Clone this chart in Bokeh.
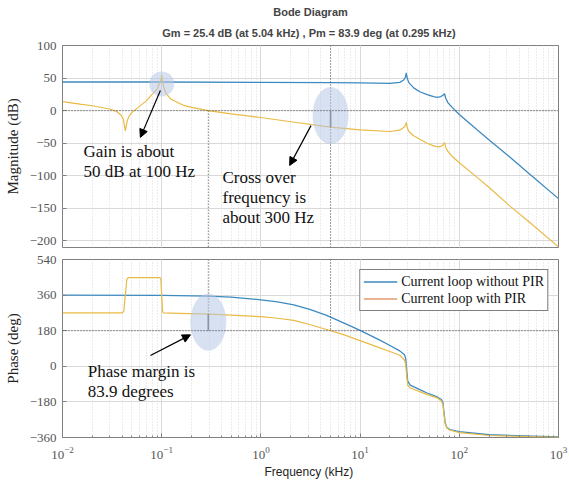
from bokeh.plotting import figure
from bokeh.layouts import column
from bokeh.models import (Title, Span, Arrow, NormalHead, Label, Legend, LegendItem,
                          FixedTicker, Range1d)
from bokeh.embed import file_html
from bokeh.resources import INLINE

# ---------------- data ----------------
# frequency in kHz
f_mag_wo = [0.01, 0.1, 1, 5, 10, 20, 25.1, 27.5, 28.7, 29.2, 29.8, 31, 34.7, 40, 47.4,
            55, 60, 65, 69, 71, 73, 77, 84.7, 100, 150, 200, 316, 500, 1000]
mag_wo = [44, 44, 43.5, 43, 42.5, 42, 43.5, 47, 52, 58, 50, 43, 35, 29, 24.6,
          21.5, 20.5, 21.5, 24, 26, 19, 12, 5, -6, -29, -45, -70, -96, -135]

f_mag_w = [0.01, 0.015, 0.02, 0.03, 0.035, 0.039, 0.041, 0.043, 0.045, 0.047, 0.05, 0.06,
           0.07, 0.08, 0.09, 0.095, 0.098, 0.1, 0.102, 0.105, 0.11, 0.123, 0.167, 0.2,
           0.295, 0.5, 1, 2, 5.04, 10, 20, 25.1, 27.5, 28.7, 29.2, 29.8, 31, 34.7, 40,
           47.4, 55, 62, 67, 69, 71, 73, 77, 84.7, 100, 150, 200, 316, 500, 1000]
mag_w = [14, 10, 7.5, 2.5, -1, -7, -13, -31, -15, -8, -3, 7,
         15, 25, 33, 42, 47, 55, 44, 36, 27, 18, 8, 5,
         0, -5, -10.5, -17, -25.4, -29.5, -32, -30, -26, -22, -18, -26, -32, -38.5, -44,
         -50, -54, -55.5, -54, -52, -49, -56, -63, -70, -80, -102, -118, -145, -170, -209]

f_ph_wo = [0.01, 0.1, 0.295, 0.5, 1, 1.47, 2.15, 3.16, 4.6, 6.8, 10, 15.8, 20, 25.1, 28,
           28.8, 29.5, 30.2, 32, 40, 47.4, 60, 66, 68.5, 70, 72, 75, 80, 100, 200, 1000]
ph_wo = [360, 359, 355, 350, 336, 326, 311, 287, 257, 220, 182, 132, 105, 78, 58,
         40, -20, -75, -95, -118, -135, -155, -168, -185, -230, -285, -310, -320, -330,
         -346, -357]

f_ph_w = [0.01, 0.04, 0.0415, 0.043, 0.0445, 0.046, 0.096, 0.098, 0.1, 0.102, 0.104, 0.15,
          0.295, 0.5, 1, 1.47, 2.15, 3.16, 4.6, 6.8, 10, 15.8, 20, 25.1, 28, 28.8, 29.5,
          30.2, 32, 40, 47.4, 60, 66, 68.5, 70, 72, 75, 80, 100, 200, 1000]
ph_w = [270, 270, 278, 360, 440, 448, 448, 440, 360, 278, 270, 268,
        264, 259, 251, 243, 232, 210, 186, 160, 130, 93, 75, 56, 32, 10, -50,
        -95, -110, -128, -143, -160, -175, -195, -240, -290, -312, -322, -335, -350, -359]

mag_ticks = [-200, -150, -100, -50, 0, 50, 100]
ph_ticks = [-360, -180, 0, 180, 360, 540]

gm_db, gm_freq = 25.4, 5.04
pm_deg, pm_freq = 83.9, 0.295

title_main = "Bode Diagram"
title_sub = "Gm = 25.4 dB (at 5.04 kHz) ,  Pm = 83.9 deg (at 0.295 kHz)"
series_names = ["Current loop without PIR", "Current loop with PIR"]

# ---------------- styling ----------------
BLUE = "#3d8ac0"
YELLOW = "#e9bb45"
ORANGE = "#e39a6e"
SERIF = "Liberation Serif"
SANS = "Liberation Sans"
FRAME = "#808080"
W = 569
MAG_RANGE = (-210, 100)
PH_RANGE = (-360, 540)


def style(p, yticks, ylabel):
    p.outline_line_color = FRAME
    p.outline_line_width = 1
    p.xgrid.grid_line_color = "#d9d9d9"
    p.xgrid.minor_grid_line_color = "#d9d9d9"
    p.xgrid.minor_grid_line_dash = "1 2"
    p.ygrid.grid_line_color = "#d9d9d9"
    p.yaxis.ticker = FixedTicker(ticks=yticks, minor_ticks=[])
    p.ygrid.ticker = FixedTicker(ticks=yticks, minor_ticks=[])
    for ax in (p.xaxis[0], p.yaxis[0]):
        ax.axis_line_color = None
        ax.major_tick_in = 4
        ax.major_tick_out = 0
        ax.minor_tick_in = 2
        ax.minor_tick_out = 0
        ax.major_tick_line_color = FRAME
        ax.minor_tick_line_color = FRAME
        ax.major_label_text_font = SERIF
        ax.major_label_text_font_size = "13px"
        ax.major_label_text_color = "#555555"
    p.yaxis.axis_label = ylabel
    p.yaxis.axis_label_text_font = SERIF
    p.yaxis.axis_label_text_font_size = "15px"
    p.yaxis.axis_label_text_font_style = "normal"
    p.yaxis.axis_label_text_color = "#222222"
    p.yaxis.major_label_standoff = 6
    p.yaxis.axis_label_standoff = 6
    p.min_border_left = 62
    p.min_border_right = 11


# ---------------- magnitude plot ----------------
p1 = figure(width=W, height=250, x_axis_type="log", output_backend="svg",
            toolbar_location=None, x_range=Range1d(0.01, 1000),
            y_range=Range1d(*MAG_RANGE))
p1.min_border_top = 45
p1.min_border_bottom = 3
style(p1, mag_ticks, "Magnitude (dB)")
p1.xaxis.visible = False

p1.title.text = title_main
p1.title.text_font = SANS
p1.title.text_font_size = "11px"
p1.title.text_font_style = "bold"
p1.title.align = "center"
p1.title.standoff = 0
p1.add_layout(Title(text=title_sub, text_font=SANS, text_font_size="11px",
                    text_font_style="bold", align="center", standoff=14), "above")

p1.line(f_mag_wo, mag_wo, line_color=BLUE, line_width=1.3)
p1.line(f_mag_w, mag_w, line_color=YELLOW, line_width=1.2)

p1.add_layout(Span(location=0, dimension="width", line_color="#444444",
                   line_dash="1 2", line_width=1))
p1.segment(x0=[pm_freq], y0=[0], x1=[pm_freq], y1=[MAG_RANGE[0]],
           line_color="#444444", line_dash="1 2", line_width=1)
p1.segment(x0=[gm_freq], y0=[MAG_RANGE[1]], x1=[gm_freq], y1=[MAG_RANGE[0]],
           line_color="#444444", line_dash="1 2", line_width=1)
p1.segment(x0=[gm_freq], y0=[0], x1=[gm_freq], y1=[-gm_db],
           line_color="#555555", line_width=1.6)

p1.ellipse(x=[0.1], y=[41], width=25, height=25, width_units="screen",
           height_units="screen", fill_color="#b8c9e6", fill_alpha=0.55, line_color=None)
p1.ellipse(x=[gm_freq], y=[-7.5], width=36, height=57, width_units="screen",
           height_units="screen", fill_color="#b8c9e6", fill_alpha=0.55, line_color=None)

head = dict(size=8, fill_color="black", line_color="black")
p1.add_layout(Arrow(end=NormalHead(**head), x_start=0.097, y_start=31,
                    x_end=0.061, y_end=-41, line_width=1.2))
p1.add_layout(Arrow(end=NormalHead(**head), x_start=3.2, y_start=-23,
                    x_end=1.95, y_end=-84, line_width=1.2))

lab = dict(text_font=SERIF, text_font_size="17px", text_color="#111111",
           text_baseline="alphabetic")
p1.add_layout(Label(x=0.0163, y=-63, text="Gain is about", **lab))
p1.add_layout(Label(x=0.0163, y=-94, text="50 dB at 100 Hz", **lab))
p1.add_layout(Label(x=0.41, y=-103, text="Cross over", **lab))
p1.add_layout(Label(x=0.41, y=-132.5, text="frequency is", **lab))
p1.add_layout(Label(x=0.41, y=-163.5, text="about 300 Hz", **lab))

# ---------------- phase plot ----------------
p2 = figure(width=W, height=231, x_axis_type="log", output_backend="svg",
            toolbar_location=None, x_range=p1.x_range,
            y_range=Range1d(*PH_RANGE))
p2.min_border_top = 9
p2.min_border_bottom = 44
style(p2, ph_ticks, "Phase (deg)")
p2.xaxis.axis_label = "Frequency  (kHz)"
p2.xaxis.axis_label_text_font = SANS
p2.xaxis.axis_label_text_font_size = "12px"
p2.xaxis.axis_label_text_font_style = "normal"
p2.xaxis.axis_label_text_color = "#222222"
p2.xaxis.major_label_standoff = 9
p2.xaxis.axis_label_standoff = 3

r_wo = p2.line(f_ph_wo, ph_wo, line_color=BLUE, line_width=1.3)
p2.line(f_ph_w, ph_w, line_color=YELLOW, line_width=1.2)
r_leg = p2.line([1.0], [1000.0], line_color=ORANGE, line_width=1.3)

p2.add_layout(Span(location=180, dimension="width", line_color="#444444",
                   line_dash="1 2", line_width=1))
p2.segment(x0=[pm_freq, gm_freq], y0=[PH_RANGE[1], PH_RANGE[1]],
           x1=[pm_freq, gm_freq], y1=[180, 180],
           line_color="#444444", line_dash="1 2", line_width=1)
p2.segment(x0=[pm_freq], y0=[180], x1=[pm_freq], y1=[180 + pm_deg],
           line_color="#555555", line_width=1.6)

p2.ellipse(x=[pm_freq], y=[223], width=36, height=57, width_units="screen",
           height_units="screen", fill_color="#b8c9e6", fill_alpha=0.55, line_color=None)
p2.add_layout(Arrow(end=NormalHead(**head), x_start=0.077, y_start=55,
                    x_end=0.195, y_end=159, line_width=1.2))
p2.add_layout(Label(x=0.018, y=-25, text="Phase margin is", **lab))
p2.add_layout(Label(x=0.018, y=-126, text="83.9 degrees", **lab))

legend = Legend(items=[LegendItem(label=series_names[0], renderers=[r_wo]),
                       LegendItem(label=series_names[1], renderers=[r_leg])],
                location="top_right")
legend.label_text_font = SERIF
legend.label_text_font_size = "14px"
legend.label_text_color = "#111111"
legend.border_line_color = "black"
legend.border_line_width = 1
legend.background_fill_color = "white"
legend.background_fill_alpha = 1
legend.padding = 3
legend.spacing = 0
legend.margin = 10
legend.glyph_width = 34
legend.glyph_height = 17
legend.label_height = 17
legend.label_standoff = 4
p2.add_layout(legend)

layout = column(p1, p2)
open("out.html", "w").write(file_html(layout, INLINE))
